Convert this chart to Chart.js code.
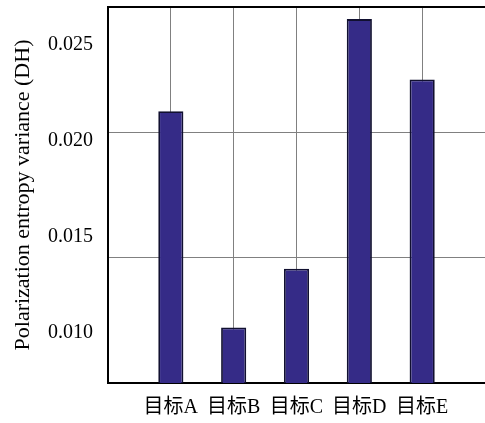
<!DOCTYPE html>
<html>
  <head>
    <meta charset="UTF-8" />
    <title>Polarization entropy variance</title>
    <script src="https://cdn.jsdelivr.net/npm/chart.js@4"></script>
    <style>
      html, body { margin: 0; padding: 0; background: #fff; }
      #wrap { width: 485px; height: 423px; }
    </style>
  </head>
  <body>
    <div id="wrap"><canvas id="chart-bar"></canvas></div>

    <script>
      // categories and values
      const categories = ["目标A", "目标B", "目标C", "目标D", "目标E"];
      const values = [0.02155, 0.01029, 0.01335, 0.02635, 0.0232];
      // tick labels of the left axis
      const yTicks = [0.010, 0.015, 0.020, 0.025];
      // horizontal grid lines (they do not sit on the labels in the original)
      const gridTicks = [0.015, 0.020];

      const xLabels = [""].concat(categories, [""]);
      const barData = [null].concat(values, [null]);

      const serif = "'Liberation Serif', 'Noto Sans CJK SC', serif";
      const noPad = function (scale) {
        scale.paddingTop = 0;
        scale.paddingBottom = 0;
        scale.paddingLeft = 0;
        scale.paddingRight = 0;
      };

      let ctx = document.getElementById("chart-bar").getContext("2d");

      new Chart(ctx, {
        type: "bar",
        data: {
          labels: xLabels,
          datasets: [
            {
              data: barData,
              backgroundColor: "#352b87",
              borderColor: "#111030",
              borderWidth: 1.8,
              borderSkipped: false,
              barPercentage: 0.4,
              categoryPercentage: 1,
            },
          ],
        },
        options: {
          animation: false,
          responsive: true,
          maintainAspectRatio: false,
          layout: {
            autoPadding: false,
            padding: { top: 7, left: 5, right: 0, bottom: 0 },
          },
          plugins: {
            legend: { display: false },
            tooltip: { enabled: false },
          },
          scales: {
            x: {
              offset: false,
              grid: { display: true, offset: false, color: "#808080", lineWidth: 1, drawTicks: false },
              border: { display: true, color: "#000", width: 2 },
              ticks: {
                color: "#000",
                padding: 13,
                maxRotation: 0,
                autoSkip: false,
                font: { family: serif, size: 20 },
              },
              afterFit: function (scale) {
                noPad(scale);
                scale.height = 40;
              },
            },
            x2: {
              type: "category",
              labels: xLabels,
              position: "top",
              offset: false,
              grid: { display: false, drawTicks: false },
              border: { display: true, color: "#000", width: 2 },
              ticks: { display: false },
              afterFit: function (scale) {
                noPad(scale);
                scale.height = 0;
              },
            },
            y: {
              position: "left",
              weight: 1,
              min: 0.007396,
              max: 0.026979,
              grid: { display: false, drawTicks: false },
              border: { display: false },
              afterBuildTicks: function (scale) {
                scale.ticks = yTicks.map(function (v) { return { value: v }; });
              },
              afterFit: function (scale) {
                noPad(scale);
                scale.width = 103;
              },
              ticks: {
                color: "#000",
                padding: 15,
                font: { family: serif, size: 20 },
                callback: function (v) { return Number(v).toFixed(3); },
              },
              title: {
                display: true,
                text: "Polarization entropy variance (DH)",
                color: "#000",
                padding: { top: 5, bottom: 10 },
                font: { family: serif, size: 22 },
              },
            },
            yg: {
              position: "left",
              weight: 0,
              min: 0.010,
              max: 0.025,
              grid: { display: true, color: "#808080", lineWidth: 1, drawTicks: false },
              border: { display: true, color: "#000", width: 2 },
              afterBuildTicks: function (scale) {
                scale.ticks = gridTicks.map(function (v) { return { value: v }; });
              },
              afterFit: function (scale) {
                noPad(scale);
                scale.width = 0;
              },
              ticks: { display: false },
            },
          },
        },
      });
    </script>
  </body>
</html>
